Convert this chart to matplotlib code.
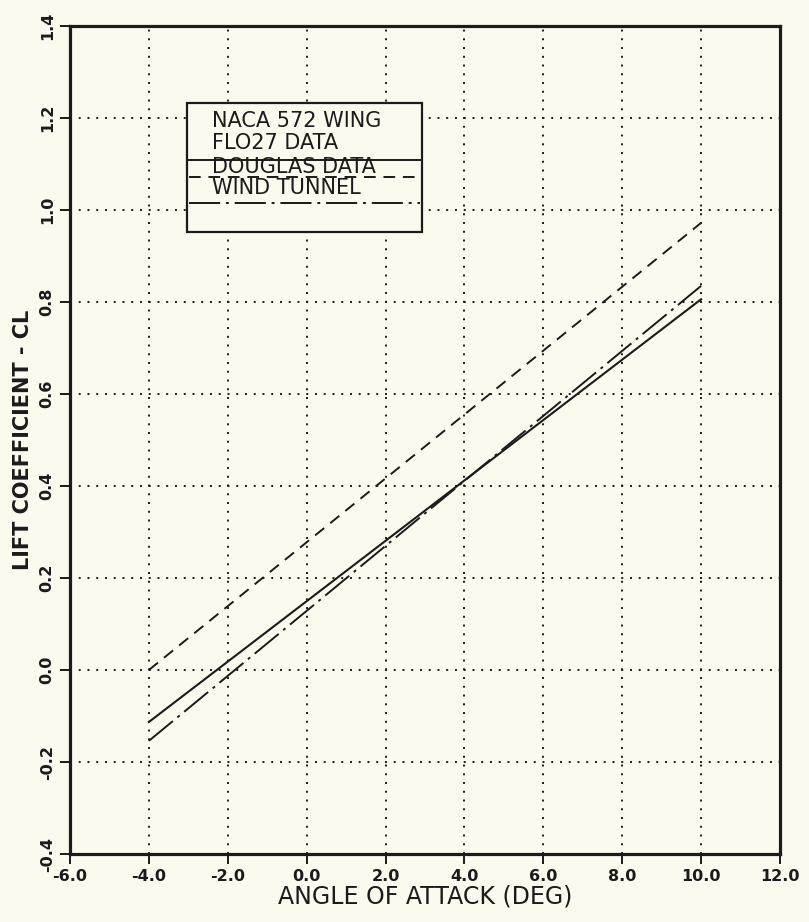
import matplotlib
matplotlib.use("Agg")
import matplotlib.pyplot as plt
from matplotlib.lines import Line2D
from matplotlib.patches import Rectangle

# ---- data ----
alpha = [-4.0, 10.0]
cl_flo27 = [-0.113, 0.806]
cl_douglas = [0.0, 0.972]
cl_wind = [-0.154, 0.835]

x_ticks = [-6.0, -4.0, -2.0, 0.0, 2.0, 4.0, 6.0, 8.0, 10.0, 12.0]
y_ticks = [-0.4, -0.2, 0.0, 0.2, 0.4, 0.6, 0.8, 1.0, 1.2, 1.4]
legend_title = "NACA 572 WING"
legend_labels = ["FLO27 DATA", "DOUGLAS DATA", "WIND TUNNEL"]

BG = "#fbfaef"
INK = "#1c1a1a"

plt.rcParams['font.family'] = ['DejaVu Sans']

fig = plt.figure(figsize=(8.09, 9.22), dpi=100, facecolor=BG)
ax = fig.add_axes([70/809, 68/922, 710/809, 828/922], facecolor=BG)

ax.set_xlim(-6, 12)
ax.set_ylim(-0.4, 1.4)

ax.set_xticks(x_ticks)
ax.set_xticklabels([f"{v:.1f}" for v in x_ticks], fontsize=11.5, fontweight='bold', color=INK)
ax.set_yticks(y_ticks)
ax.set_yticklabels([f"{v:.1f}" for v in y_ticks], fontsize=11.5, fontweight='bold',
                   rotation=90, va='center', color=INK)
ax.tick_params(direction='out', length=7, width=1.4, color=INK, pad=4)

for s in ax.spines.values():
    s.set_linewidth(2.3)
    s.set_color(INK)

ax.grid(True, color=INK, linestyle=(0, (1, 3.5)), linewidth=1.4)
ax.set_axisbelow(True)

ax.plot(alpha, cl_flo27, color=INK, lw=1.5, linestyle='-')
ax.plot(alpha, cl_douglas, color=INK, lw=1.4, linestyle=(0, (6, 4)))
ax.plot(alpha, cl_wind, color=INK, lw=1.4, linestyle=(0, (16, 3, 1.5, 3)))

ax.set_xlabel("ANGLE OF ATTACK (DEG)", fontsize=17, color=INK, labelpad=0)
ax.set_ylabel("LIFT COEFFICIENT - CL", fontsize=15, fontweight='bold', color=INK, labelpad=5)

# ---- legend box (drawn in axes fraction) ----
bx0, bx1 = 0.165, 0.496
by0, by1 = 0.751, 0.907
ax.add_patch(Rectangle((bx0, by0), bx1 - bx0, by1 - by0, transform=ax.transAxes,
                       facecolor=BG, edgecolor=INK, lw=1.6, zorder=5))
tx = 0.200
fs = 15
ax.text(tx, 0.878, legend_title, transform=ax.transAxes, fontsize=fs, color=INK,
        va='baseline', zorder=6)
label_y = [0.852, 0.822, 0.797]
line_y = [0.838, 0.8176, 0.786]
styles = ['-', (0, (6, 4)), (0, (16, 3, 1.5, 3))]
for lab, ly, ln, st in zip(legend_labels, label_y, line_y, styles):
    ax.text(tx, ly, lab, transform=ax.transAxes, fontsize=fs, color=INK,
            va='baseline', zorder=6)
    ax.add_line(Line2D([bx0 + 0.003, bx1 - 0.003], [ln, ln], transform=ax.transAxes,
                       color=INK, lw=1.4, linestyle=st, zorder=6))

fig.savefig("out.png", dpi=100, facecolor=BG)
